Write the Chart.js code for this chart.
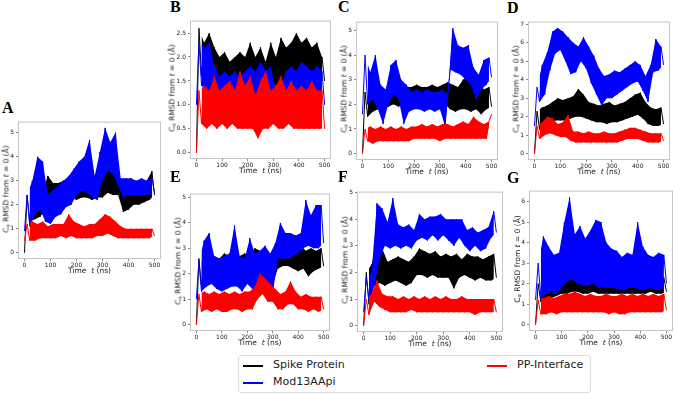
<!DOCTYPE html>
<html>
<head>
<meta charset="utf-8">
<script src="https://cdn.jsdelivr.net/npm/chart.js@4/dist/chart.umd.min.js"></script>
<style>
    body { margin: 0; width: 676px; height: 394px; position: relative; background: #fff; overflow: hidden; font-family: "DejaVu Sans", sans-serif; color: #222; }
    canvas { position: absolute; }
    .letra { position: absolute; font: bold 16px "Liberation Serif", serif; line-height: 16px; color: #000; }
    .ytit, .xtit { position: absolute; font-size: 7.5px; white-space: nowrap; line-height: 8px; }
    .ytit { transform: translate(-50%, -50%) rotate(-90deg); }
    .xtit { transform: translate(-50%, -50%); }
    .ytit sub { font-size: 5px; vertical-align: -1px; }
    #leyenda { position: absolute; left: 238px; top: 355px; width: 351px; height: 36px; border: 1px solid #ddd; border-radius: 3px; font-size: 11px; }
    .item { position: absolute; line-height: 12px; }
    .item span { position: absolute; left: 0; top: 6px; width: 20px; height: 2px; }
</style>
</head>
<body>
<div id="leyenda">
    <div class="item" style="left:4px;top:3px"><span style="background:#000"></span><b style="font-weight:normal;margin-left:30px">Spike Protein</b></div>
    <div class="item" style="left:4px;top:20px"><span style="background:#00f"></span><b style="font-weight:normal;margin-left:30px">Mod13AApi</b></div>
    <div class="item" style="left:248px;top:3px"><span style="background:#f00"></span><b style="font-weight:normal;margin-left:30px">PP-Interface</b></div>
</div>
<script>
// tiempo (ns)
const tiempo = [0, 10, 20, 30, 40, 50, 60, 70, 80, 90, 100, 110, 120, 130, 140, 150, 160, 170, 180, 190, 200,
    210, 220, 230, 240, 250, 260, 270, 280, 290, 300, 310, 320, 330, 340, 350, 360, 370, 380, 390, 400,
    410, 420, 430, 440, 450, 460, 470, 480, 490, 500];

const ticksX = [0, 100, 200, 300, 400, 500];
const ticksY5 = [0, 1, 2, 3, 4, 5];
const ticksYB = [0, 0.5, 1, 1.5, 2, 2.5];
const ticksYD = [0, 1, 2, 3, 4, 5, 6, 7];
const ticksYG = [0, 1, 2, 3, 4, 5, 6];

const series = ["Spike Protein", "Mod13AApi", "PP-Interface"];

// valores leídos: índices impares = picos, pares = valles
// A
const aSpike = [0, 2.4, 1.3, 2.6, 1.4, 2.5, 1.5, 2.6, 1.8, 3.2, 2.0, 2.9, 2.1, 2.9, 2.2, 3.0, 2.3, 3.0, 2.3, 3.1, 2.2, 3.2, 2.3, 3.1, 2.3, 3.1, 2.2, 3.2, 2.3, 3.4, 2.3, 3.6, 2.5, 3.7, 2.4, 3.4, 2.4, 3.0, 1.7, 2.5, 1.8, 2.6, 2.0, 2.8, 2.0, 2.9, 2.1, 3.0, 2.2, 3.4, 2.4];
const aMod = [0.9, 2.4, 1.1, 3.0, 1.6, 4.0, 1.8, 3.8, 1.3, 2.4, 1.2, 2.6, 1.5, 2.8, 1.6, 3.0, 1.9, 3.2, 2.0, 3.5, 2.4, 3.8, 2.6, 4.0, 2.5, 4.7, 2.3, 3.2, 2.2, 4.2, 3.0, 5.2, 3.4, 4.6, 3.3, 5.0, 2.8, 3.1, 2.3, 3.1, 2.4, 3.1, 2.4, 3.0, 2.4, 3.1, 2.4, 3.0, 2.4, 3.1, 2.5];
const aPP = [0.5, 1.2, 0.5, 1.3, 0.5, 1.2, 0.6, 1.3, 0.6, 1.1, 0.6, 1.2, 0.6, 1.2, 0.7, 1.2, 0.6, 1.6, 0.7, 1.3, 0.6, 1.2, 0.6, 1.1, 0.6, 1.2, 0.6, 1.2, 0.7, 1.4, 0.7, 1.6, 0.8, 1.5, 0.7, 1.3, 0.6, 1.1, 0.6, 1.0, 0.6, 1.0, 0.6, 1.0, 0.6, 1.0, 0.6, 1.0, 0.6, 1.0, 0.7];

// B
const bSpike = [0, 2.6, 1.6, 2.3, 1.5, 2.5, 1.7, 2.2, 1.5, 2.0, 1.4, 2.1, 1.5, 1.9, 1.5, 2.0, 1.5, 2.1, 1.4, 2.0, 1.5, 2.3, 1.5, 2.0, 1.5, 2.2, 1.5, 1.9, 1.5, 2.3, 1.4, 2.0, 1.4, 2.4, 1.5, 2.2, 1.5, 2.3, 1.6, 2.5, 1.6, 2.3, 1.6, 2.4, 1.6, 2.2, 1.5, 2.3, 1.4, 2.0, 1.5];
const bMod = [1.0, 2.3, 1.4, 2.2, 1.3, 2.3, 1.2, 1.8, 1.0, 1.6, 0.9, 1.7, 0.9, 1.6, 0.9, 1.7, 1.0, 1.6, 0.9, 1.7, 0.9, 1.8, 0.8, 1.7, 0.9, 1.9, 0.8, 1.7, 0.9, 1.8, 0.9, 1.3, 0.9, 1.4, 1.0, 1.7, 1.0, 1.8, 1.0, 1.7, 1.0, 1.9, 1.0, 1.8, 1.0, 1.7, 1.0, 1.8, 1.0, 1.7, 1.0];
const bPP = [0.0, 1.3, 0.6, 1.4, 0.5, 1.3, 0.6, 1.6, 0.5, 1.3, 0.6, 1.4, 0.5, 1.5, 0.6, 1.3, 0.5, 1.7, 0.5, 1.4, 0.5, 1.6, 0.5, 1.2, 0.3, 1.5, 0.5, 1.7, 0.5, 1.3, 0.6, 1.4, 0.5, 1.6, 0.5, 1.3, 0.6, 1.5, 0.5, 1.3, 0.5, 1.4, 0.5, 1.3, 0.5, 1.5, 0.5, 1.3, 0.5, 1.3, 0.5];

// C
const cSpike = [0, 2.5, 1.5, 2.6, 1.7, 2.6, 1.8, 2.5, 1.8, 2.6, 1.9, 2.5, 2.0, 2.6, 1.9, 2.5, 2.0, 2.7, 2.1, 2.7, 2.1, 2.8, 2.1, 2.7, 2.1, 2.7, 2.1, 2.8, 2.1, 2.7, 2.0, 2.8, 2.0, 2.9, 1.8, 2.8, 1.7, 2.7, 1.8, 3.0, 1.8, 3.2, 1.7, 2.8, 1.8, 3.0, 1.6, 2.6, 1.8, 2.7, 1.9];
const cMod = [1.6, 4.0, 2.0, 3.3, 2.2, 4.0, 1.8, 2.8, 1.2, 2.6, 2.0, 3.6, 2.4, 3.8, 2.2, 3.0, 1.2, 2.8, 1.7, 2.5, 1.8, 2.6, 1.8, 2.5, 1.7, 2.6, 1.8, 2.5, 1.7, 2.5, 1.8, 2.6, 1.1, 2.4, 3.4, 5.1, 3.3, 4.4, 3.2, 4.3, 3.0, 4.4, 2.8, 3.5, 2.2, 3.2, 2.6, 3.8, 2.8, 3.9, 3.1];
const cPP = [0.0, 1.0, 0.5, 1.1, 0.4, 1.0, 0.5, 1.1, 0.5, 1.0, 0.5, 1.1, 0.5, 1.0, 0.5, 1.1, 0.5, 1.0, 0.5, 1.1, 0.6, 1.1, 0.6, 1.2, 0.6, 1.1, 0.6, 1.2, 0.6, 1.1, 0.5, 1.2, 0.6, 1.2, 0.6, 1.1, 0.6, 1.2, 0.6, 1.3, 0.6, 1.2, 0.6, 1.5, 0.6, 1.3, 0.6, 1.2, 0.6, 1.3, 1.6];

// D
const dSpike = [0, 2.3, 1.3, 2.5, 1.5, 2.6, 1.7, 2.8, 1.8, 3.0, 1.8, 2.9, 1.8, 3.0, 1.9, 3.1, 2.0, 3.5, 2.0, 3.2, 1.9, 2.8, 1.8, 2.7, 1.7, 2.6, 1.7, 2.7, 1.6, 2.8, 1.7, 2.6, 1.7, 2.7, 1.8, 2.8, 1.9, 3.0, 2.0, 3.2, 2.1, 3.3, 1.9, 2.8, 1.6, 2.5, 1.5, 2.4, 1.5, 2.5, 1.6];
const dMod = [1.5, 3.6, 2.8, 4.8, 3.2, 5.5, 4.5, 6.6, 5.4, 6.8, 5.6, 6.6, 5.0, 6.3, 4.3, 6.0, 4.4, 5.8, 5.0, 6.3, 4.6, 5.8, 3.8, 5.3, 3.2, 4.6, 2.6, 4.2, 3.0, 4.3, 3.0, 4.5, 3.2, 4.4, 3.4, 4.6, 3.6, 4.8, 3.8, 5.0, 3.9, 4.8, 3.4, 4.2, 2.8, 4.8, 4.4, 6.2, 4.5, 5.8, 4.8];
const dPP = [0.0, 1.5, 0.8, 1.7, 1.0, 2.0, 1.1, 1.9, 1.0, 1.6, 0.9, 1.7, 0.9, 2.1, 0.7, 1.2, 0.6, 1.2, 0.6, 1.1, 0.6, 1.2, 0.6, 1.1, 0.6, 1.1, 0.6, 1.2, 0.6, 1.1, 0.6, 1.1, 0.6, 1.2, 0.7, 1.3, 0.8, 1.4, 0.8, 1.4, 0.8, 1.3, 0.7, 1.2, 0.6, 1.1, 0.6, 1.1, 0.6, 1.1, 0.7];

// E
const eSpike = [0, 2.6, 1.5, 2.4, 1.8, 2.6, 1.9, 2.7, 2.0, 2.6, 2.0, 2.8, 2.0, 2.7, 2.0, 2.8, 2.1, 2.7, 2.0, 2.8, 2.0, 2.7, 2.1, 3.0, 2.0, 2.9, 2.1, 2.8, 1.9, 2.7, 1.6, 2.8, 2.2, 3.0, 2.3, 3.0, 2.3, 3.2, 2.2, 3.0, 2.1, 3.1, 2.2, 2.9, 1.9, 3.0, 2.1, 2.9, 2.2, 3.0, 2.3];
const eMod = [1.0, 2.5, 1.3, 3.3, 1.5, 3.6, 1.6, 2.7, 1.4, 2.6, 1.3, 2.7, 1.4, 2.8, 1.5, 3.9, 1.5, 2.7, 1.3, 2.6, 1.6, 3.4, 1.4, 2.8, 1.4, 2.9, 1.5, 3.1, 1.5, 2.8, 1.2, 3.2, 2.6, 4.0, 2.6, 3.6, 2.6, 3.6, 2.7, 3.5, 2.8, 3.6, 3.0, 4.9, 3.1, 4.3, 3.0, 4.7, 3.0, 4.7, 3.2];
const ePP = [0.0, 1.2, 0.5, 1.3, 0.6, 1.2, 0.5, 1.3, 0.6, 1.2, 0.5, 1.3, 0.5, 1.2, 0.6, 1.3, 0.6, 1.2, 0.5, 1.3, 0.6, 1.3, 0.6, 1.5, 1.0, 2.0, 1.2, 1.8, 0.9, 1.6, 0.9, 1.4, 0.6, 1.2, 0.6, 1.3, 0.8, 1.7, 0.8, 1.3, 0.6, 1.1, 0.6, 1.2, 0.5, 1.1, 0.6, 1.1, 0.5, 1.1, 0.6];

// F
const fSpike = [0, 2.0, 0.8, 2.3, 1.5, 3.2, 1.6, 2.9, 1.5, 2.4, 1.6, 2.5, 1.7, 2.6, 1.6, 2.5, 1.5, 2.4, 1.6, 2.6, 1.9, 2.9, 1.9, 2.8, 1.8, 2.7, 1.9, 2.8, 1.8, 2.6, 1.8, 2.7, 1.8, 2.6, 1.4, 2.7, 1.8, 2.5, 1.9, 2.7, 1.8, 2.6, 1.7, 2.6, 1.8, 2.5, 1.7, 2.6, 1.7, 2.7, 1.8];
const fMod = [0.5, 1.8, 1.0, 2.0, 1.5, 4.6, 2.5, 4.4, 3.0, 3.9, 2.9, 4.8, 3.0, 3.8, 2.9, 3.7, 3.0, 3.8, 2.9, 3.6, 3.2, 4.2, 3.3, 4.0, 3.2, 4.1, 3.4, 4.1, 3.2, 4.2, 3.4, 4.0, 3.2, 4.0, 3.0, 4.0, 3.3, 4.0, 3.0, 3.6, 2.8, 3.7, 3.0, 3.5, 2.8, 3.6, 2.9, 3.7, 3.3, 4.3, 3.5];
const fPP = [0.0, 1.0, 0.4, 1.2, 0.9, 1.7, 0.7, 1.2, 0.6, 1.1, 0.5, 1.1, 0.5, 1.0, 0.5, 1.1, 0.5, 1.0, 0.6, 1.1, 0.5, 1.0, 0.5, 1.1, 0.5, 1.0, 0.5, 1.1, 0.5, 1.0, 0.5, 1.1, 0.5, 1.0, 0.5, 1.0, 0.5, 1.1, 0.5, 1.0, 0.5, 1.0, 0.4, 1.0, 0.5, 1.0, 0.5, 1.0, 0.5, 1.0, 0.5];

// G
const gSpike = [0, 2.0, 1.1, 2.2, 1.2, 2.3, 1.3, 2.4, 1.4, 2.5, 1.5, 2.8, 1.5, 2.9, 1.6, 2.7, 1.6, 2.8, 1.5, 2.6, 1.5, 2.7, 1.6, 2.6, 1.5, 2.5, 1.5, 2.5, 1.5, 2.4, 1.5, 2.3, 1.5, 2.2, 1.5, 2.3, 1.5, 2.2, 1.5, 2.4, 1.5, 2.3, 1.5, 2.2, 1.6, 2.3, 1.5, 2.2, 1.5, 2.3, 1.6];
const gMod = [1.2, 3.0, 1.3, 4.3, 1.5, 3.8, 1.6, 3.4, 1.5, 3.5, 1.8, 5.0, 2.1, 6.2, 2.2, 4.4, 2.0, 4.8, 1.9, 4.2, 1.9, 4.6, 2.0, 5.1, 1.8, 5.0, 1.8, 4.0, 1.8, 3.7, 1.8, 3.6, 1.7, 3.3, 1.7, 3.5, 1.8, 3.4, 1.8, 5.0, 1.7, 3.8, 1.7, 3.4, 1.8, 3.3, 1.7, 3.5, 1.7, 3.4, 2.0];
const gPP = [0.0, 1.2, 0.5, 1.3, 0.5, 1.4, 0.6, 1.3, 0.5, 1.4, 0.6, 1.5, 0.6, 1.5, 0.6, 1.6, 0.6, 1.5, 0.6, 1.4, 0.6, 1.5, 0.6, 1.4, 0.6, 1.4, 0.6, 1.5, 0.5, 1.4, 0.6, 1.4, 0.5, 1.5, 0.5, 1.4, 0.6, 1.5, 0.6, 1.4, 0.6, 1.5, 0.6, 1.4, 0.6, 1.5, 0.6, 1.4, 0.6, 1.5, 0.7];

const colores = ["#000000", "#0000ff", "#ff0000"];

// caja de cada panel: [izq, arriba, der, abajo] en px
const paneles = [
    { letra: "A", caja: [18, 118, 161, 259], y: [-0.26, 5.46], ticks: ticksY5, dec: 0, datos: [aSpike, aMod, aPP], pos: [2, 100] },
    { letra: "B", caja: [190, 17, 331, 159], y: [-0.13, 2.76], ticks: ticksYB, dec: 1, datos: [bSpike, bMod, bPP], pos: [170, -1] },
    { letra: "C", caja: [356, 18, 498, 160], y: [-0.26, 5.36], ticks: ticksY5, dec: 0, datos: [cSpike, cMod, cPP], pos: [338, -1] },
    { letra: "D", caja: [528, 18, 670, 160], y: [-0.34, 7.14], ticks: ticksYD, dec: 0, datos: [dSpike, dMod, dPP], pos: [507, 0] },
    { letra: "E", caja: [190, 190, 330, 331], y: [-0.25, 5.15], ticks: ticksY5, dec: 0, datos: [eSpike, eMod, ePP], pos: [170, 169] },
    { letra: "F", caja: [357, 188, 503, 332], y: [-0.24, 5.04], ticks: ticksY5, dec: 0, datos: [fSpike, fMod, fPP], pos: [338, 169] },
    { letra: "G", caja: [529, 187, 673, 331], y: [-0.31, 6.53], ticks: ticksYG, dec: 0, datos: [gSpike, gMod, gPP], pos: [507, 170] },
];

const marco = {
    id: "marco",
    afterDraw(chart) {
        const { ctx, chartArea: a } = chart;
        ctx.save();
        ctx.strokeStyle = "#c4c4c4";
        ctx.lineWidth = 1;
        ctx.strokeRect(a.left + 0.5, a.top + 0.5, a.right - a.left - 1, a.bottom - a.top - 1);
        ctx.restore();
    },
};

const fuenteTicks = { family: "DejaVu Sans", size: 6 };
const ANCHO_Y = 16;
const ALTO_X = 12;

function puntos(valores, filtro) {
    return tiempo.map((x, k) => ({ x, y: valores[k], k })).filter(filtro).map(({ x, y }) => ({ x, y }));
}

function dibujarPanel(p) {
    const [l, t, r, b] = p.caja;
    const canvas = document.createElement("canvas");
    canvas.width = r - l + ANCHO_Y + 3;
    canvas.height = b - t + ALTO_X + 2;
    canvas.style.left = (l - ANCHO_Y) + "px";
    canvas.style.top = (t - 2) + "px";
    document.body.appendChild(canvas);

    const letra = document.createElement("div");
    letra.className = "letra";
    letra.textContent = p.letra;
    letra.style.left = p.pos[0] + "px";
    letra.style.top = p.pos[1] + "px";
    document.body.appendChild(letra);

    const yt = document.createElement("div");
    yt.className = "ytit";
    yt.innerHTML = "C<sub>α</sub> RMSD from <i>t</i> = 0 (Å)";
    yt.style.left = (l - (p.dec ? 17 : 11)) + "px";
    yt.style.top = ((t + b) / 2) + "px";
    document.body.appendChild(yt);

    const xt = document.createElement("div");
    xt.className = "xtit";
    xt.innerHTML = "Time&nbsp;&nbsp;<i>t</i> (ns)";
    xt.style.left = ((l + r) / 2) + "px";
    xt.style.top = (b + 12) + "px";
    document.body.appendChild(xt);

    // por serie: borde superior (picos), borde inferior (valles) relleno hasta el anterior, y la traza
    const datasets = [];
    p.datos.forEach((valores, i) => {
        const orden = (2 - i) * 2;
        datasets.push({
            label: series[i] + " max",
            data: puntos(valores, (d) => d.k % 2 === 1),
            borderWidth: 0,
            pointRadius: 0,
            order: orden,
        });
        datasets.push({
            label: series[i] + " min",
            data: puntos(valores, (d) => d.k % 2 === 0 && d.k > 0),
            borderWidth: 0,
            pointRadius: 0,
            fill: "-1",
            backgroundColor: colores[i],
            order: orden,
        });
        datasets.push({
            label: series[i],
            data: puntos(valores, () => true),
            borderColor: colores[i],
            borderWidth: 1,
            pointRadius: 0,
            tension: 0,
            order: orden - 1,
        });
    });

    return new Chart(canvas, {
        type: "line",
        data: { datasets },
        options: {
            responsive: false,
            animation: false,
            devicePixelRatio: 1,
            layout: { padding: { top: 2, right: 3, left: 0, bottom: 0 } },
            plugins: { legend: { display: false }, tooltip: { enabled: false }, filler: { propagate: false } },
            scales: {
                x: {
                    type: "linear",
                    min: -25,
                    max: 525,
                    afterBuildTicks: (s) => { s.ticks = ticksX.map((v) => ({ value: v })); },
                    afterFit: (s) => { s.height = ALTO_X; },
                    ticks: { font: fuenteTicks, color: "#222", padding: 1, maxRotation: 0, autoSkip: false },
                    grid: { drawOnChartArea: false, tickLength: 2, color: "#888" },
                    border: { display: false },
                },
                y: {
                    min: p.y[0],
                    max: p.y[1],
                    afterBuildTicks: (s) => { s.ticks = p.ticks.map((v) => ({ value: v })); },
                    afterFit: (s) => { s.width = ANCHO_Y; },
                    ticks: { font: fuenteTicks, color: "#222", padding: 2, autoSkip: false, callback: (v) => v.toFixed(p.dec) },
                    grid: { drawOnChartArea: false, tickLength: 2, color: "#888" },
                    border: { display: false },
                },
            },
        },
        plugins: [marco],
    });
}

paneles.forEach(dibujarPanel);
</script>
</body>
</html>
